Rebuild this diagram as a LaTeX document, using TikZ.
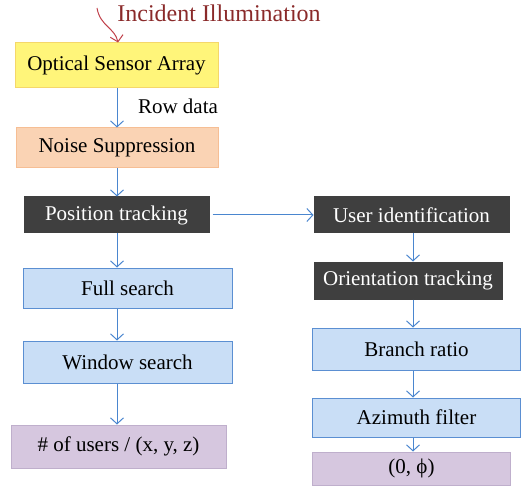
\documentclass[tikz,border=0pt]{standalone}
\usepackage{fontspec}
\setmainfont{Liberation Serif}
\usetikzlibrary{arrows.meta}
\definecolor{ylwfill}{HTML}{FFF57A}
\definecolor{ylwdraw}{HTML}{F5D76A}
\definecolor{pchfill}{HTML}{FAD3B4}
\definecolor{pchdraw}{HTML}{F6BE94}
\definecolor{dkfill}{HTML}{3F3F3F}
\definecolor{blfill}{HTML}{C9DEF6}
\definecolor{bldraw}{HTML}{5B8FD2}
\definecolor{lvfill}{HTML}{D6C7DF}
\definecolor{lvdraw}{HTML}{BFAFCC}
\definecolor{arr}{HTML}{4A86CF}
\definecolor{redarr}{HTML}{C0404A}
\definecolor{redtxt}{HTML}{8A2A2A}
\tikzset{
  box/.style={rectangle, inner sep=0pt, line width=1pt, font=\fontsize{21}{25}\selectfont},
  ylw/.style={box, fill=ylwfill, draw=ylwdraw},
  pch/.style={box, fill=pchfill, draw=pchdraw},
  dk/.style={box, fill=dkfill, draw=dkfill, text=white},
  bl/.style={box, fill=blfill, draw=bldraw},
  lv/.style={box, fill=lvfill, draw=lvdraw},
  flow/.style={draw=arr, line width=1pt, -{Straight Barb[length=6pt,width=13pt,line width=1pt]}},
}
\begin{document}
\begin{tikzpicture}[x=1pt,y=-1pt]
\useasboundingbox (0,0) rectangle (522,489);
\node[ylw, minimum width=203pt, minimum height=45pt] (osa) at (116.5,65.5) {Optical Sensor Array};
\node[pch, minimum width=202pt, minimum height=40pt] (ns) at (117,148) {Noise Suppression};
\node[dk, minimum width=185pt, minimum height=36pt] (pt) at (116.5,215) {Position tracking};
\node[bl, minimum width=209pt, minimum height=40pt] (fs) at (127.5,288) {Full search};
\node[bl, minimum width=209pt, minimum height=42pt] (ws) at (127.5,362) {Window search};
\node[lv, minimum width=215pt, minimum height=43pt] (nu) at (118.5,446.5) {\# of users / (x, y, z)};
\node[dk, minimum width=195pt, minimum height=36pt] (ui) at (411.5,215) {User identification};
\node[dk, minimum width=188pt, minimum height=37pt] (ot) at (408,280.5) {Orientation tracking};
\node[bl, minimum width=208pt, minimum height=42pt] (br) at (416.5,349) {Branch ratio};
\node[bl, minimum width=208pt, minimum height=39pt] (az) at (416.5,417.5) {Azimuth filter};
\node[lv, minimum width=198pt, minimum height=33pt] (res) at (411.5,468.5) {(0, ϕ)};
\node[font=\fontsize{24}{28}\selectfont, text=redtxt] (inc) at (219,13) {Incident Illumination};
\node[font=\fontsize{21}{25}\selectfont] (rd) at (178,106) {Row data};
\coordinate (src) at (97,8);
\draw[draw=redarr, line width=1pt, -{Straight Barb[length=6pt,width=13pt,line width=1pt]}]
  (src) .. controls (100,26) and (115,28) .. (osa.north -| 118,0);
\draw[flow] (osa.south -| 117,0) -- (ns.north -| 117,0);
\draw[flow] (ns.south -| 117,0) -- (pt.north -| 117,0);
\draw[flow] (pt.south -| 117,0) -- (fs.north -| 117,0);
\draw[flow] (fs.south -| 117,0) -- (ws.north -| 117,0);
\draw[flow] (ws.south -| 117,0) -- (nu.north -| 117,0);
\draw[flow] ([xshift=3pt]pt.east) -- (ui.west);
\draw[flow] (ui.south -| 413,0) -- (ot.north -| 413,0);
\draw[flow] (ot.south -| 413,0) -- (br.north -| 413,0);
\draw[flow] (br.south -| 413,0) -- (az.north -| 413,0);
\draw[flow] (az.south -| 413,0) -- (res.north -| 413,0);
\end{tikzpicture}
\end{document}
